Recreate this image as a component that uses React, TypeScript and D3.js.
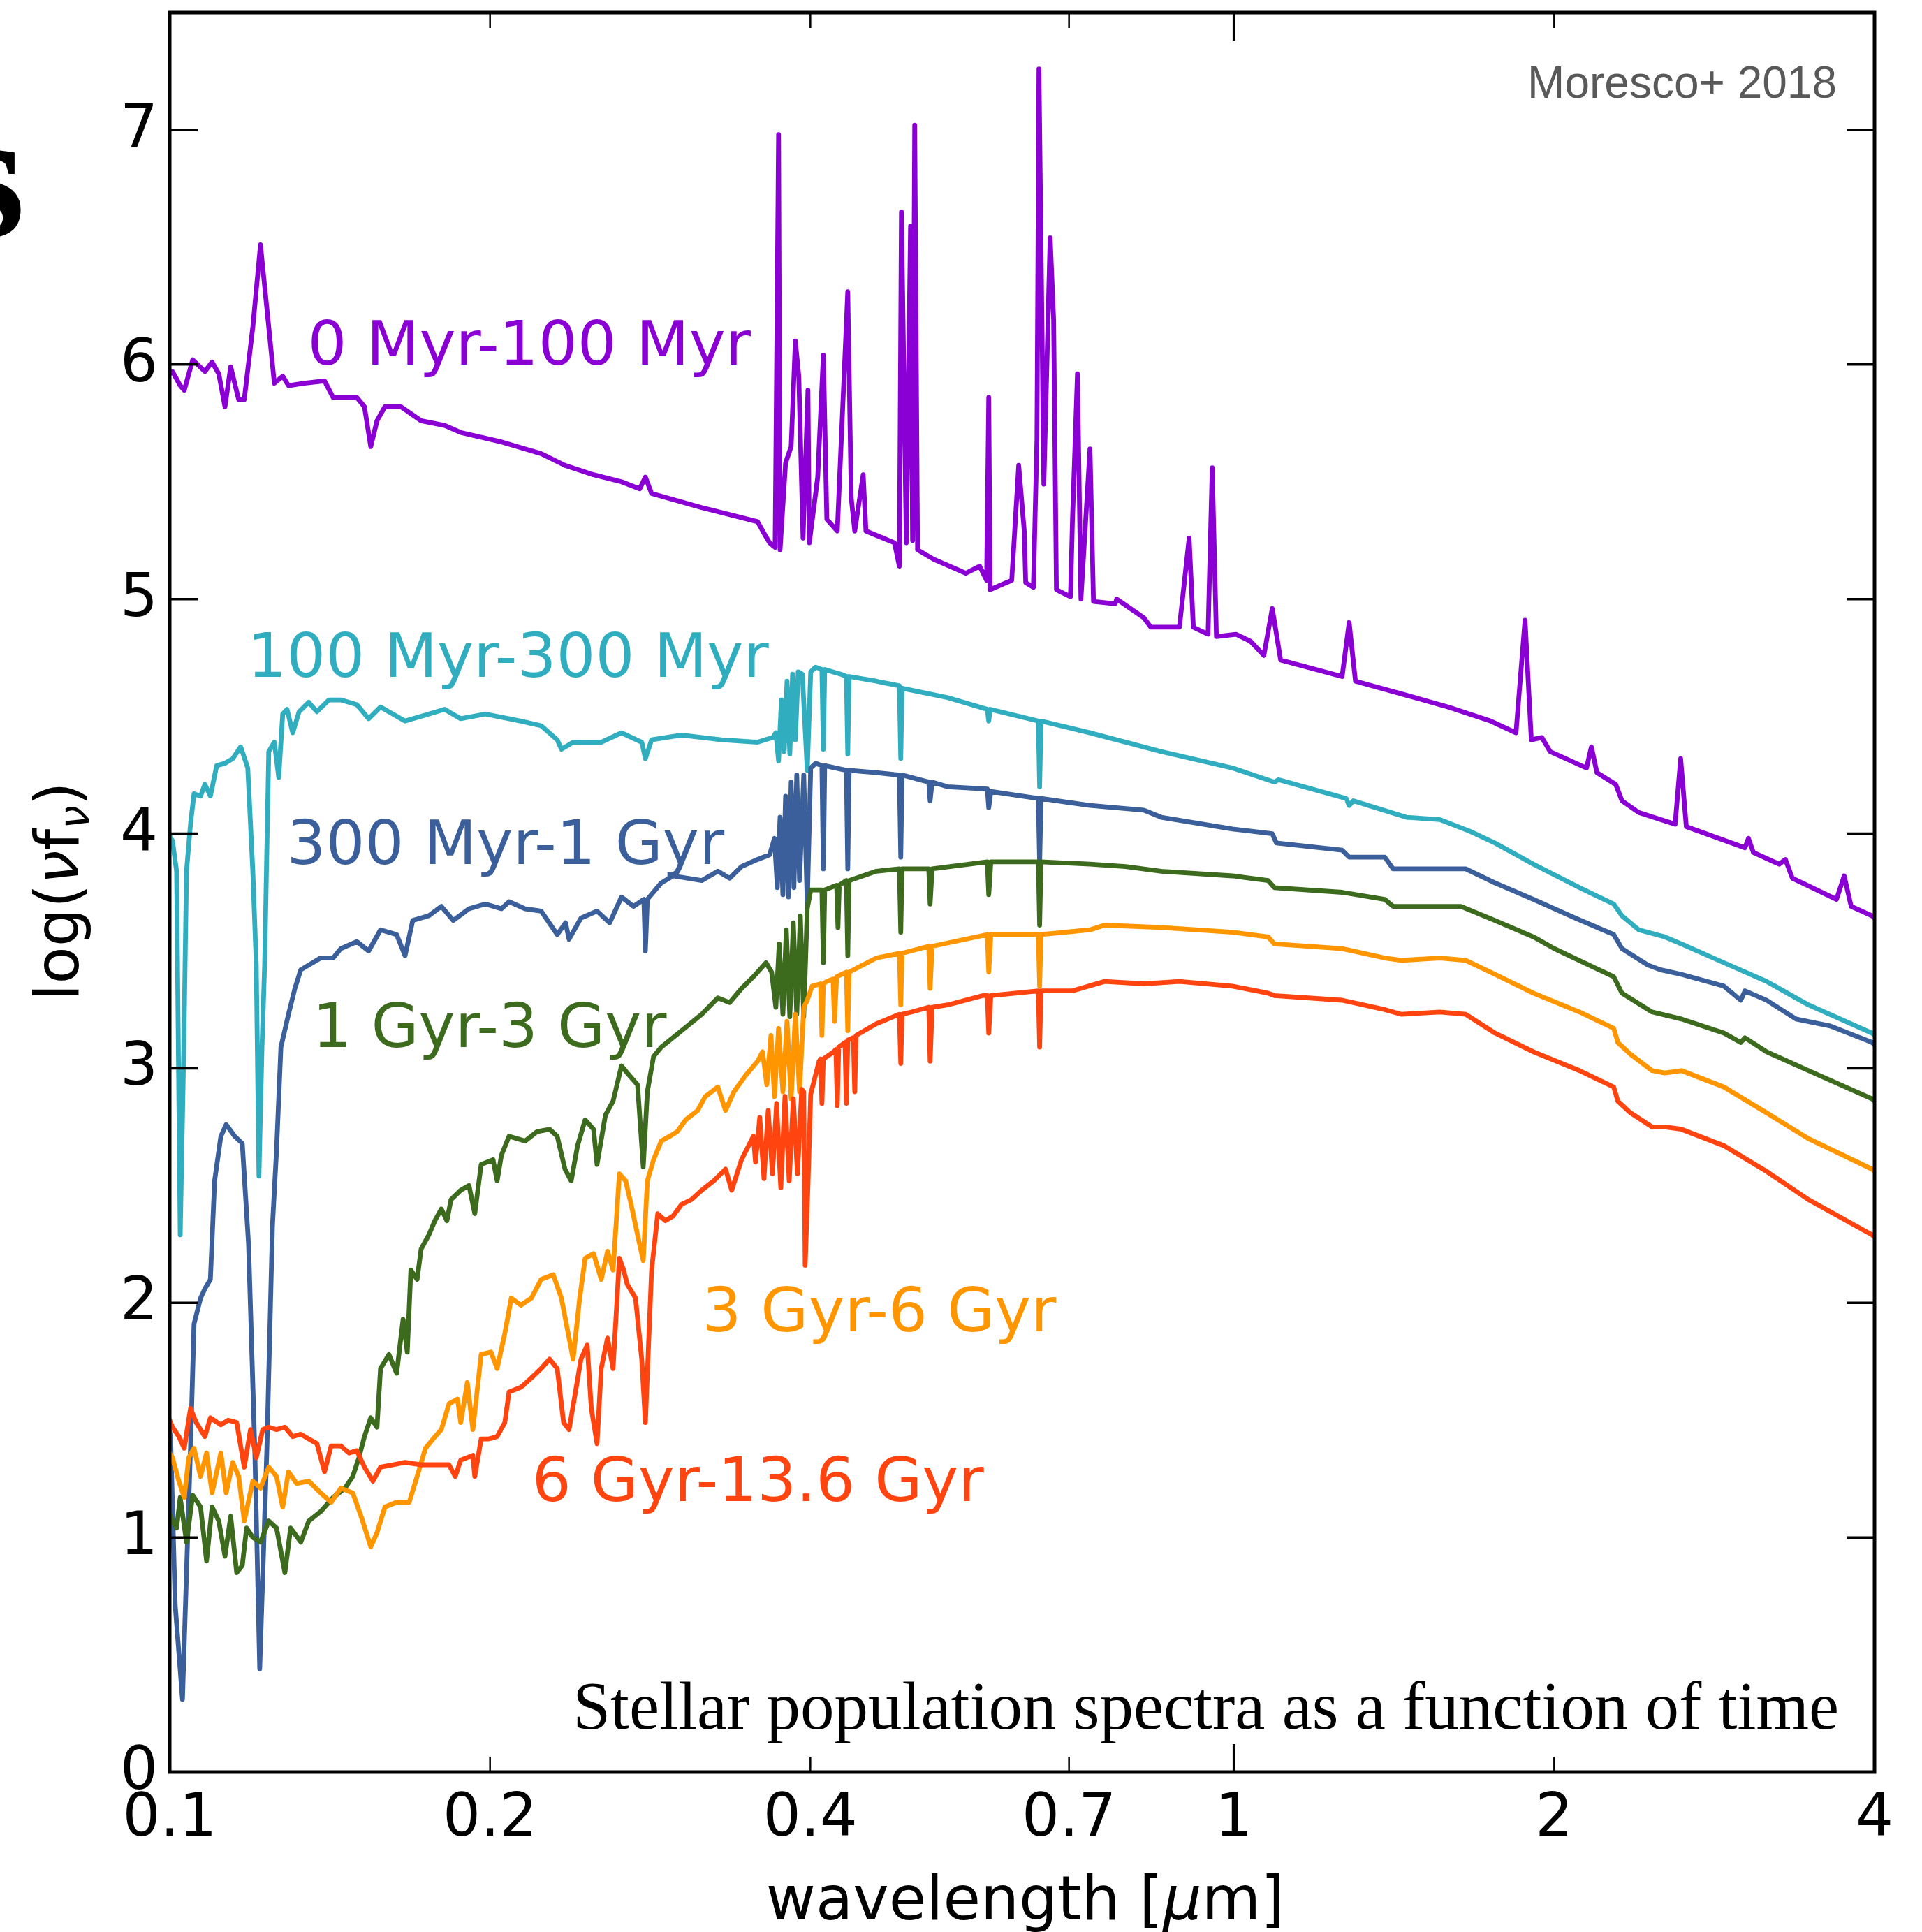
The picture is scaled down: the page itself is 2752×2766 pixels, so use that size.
import React from "react";
import * as d3 from "d3";

type Pt = [number, number];

// tick values
const xTicks = [0.1, 0.2, 0.4, 0.7, 1, 2, 4];
const xMajorTicks = [0.1, 1];
const yTicks = [0, 1, 2, 3, 4, 5, 6, 7];

// spectra: [wavelength in micron, log(nu f_nu)]
const age0to100Myr: Pt[] = [
  [0.1, 5.96], [0.1006, 5.97], [0.1023, 5.91], [0.1032, 5.89], [0.1051, 6.02], [0.1079, 5.97],
  [0.1096, 6.01], [0.1112, 5.96], [0.1127, 5.82], [0.1141, 5.99], [0.1161, 5.85], [0.1175, 5.85],
  [0.1197, 6.16], [0.1217, 6.51], [0.1239, 6.16], [0.1254, 5.92], [0.1277, 5.95], [0.1293, 5.91],
  [0.1338, 5.92], [0.1398, 5.93], [0.1424, 5.86], [0.1499, 5.86], [0.1524, 5.82], [0.1545, 5.65],
  [0.1566, 5.76], [0.1593, 5.82], [0.1649, 5.82], [0.1723, 5.76], [0.1813, 5.74], [0.1877, 5.71],
  [0.205, 5.67], [0.2234, 5.62], [0.2352, 5.57], [0.2502, 5.53], [0.2658, 5.5], [0.2765, 5.47],
  [0.2799, 5.52], [0.2837, 5.45], [0.3162, 5.39], [0.3568, 5.33], [0.3629, 5.27], [0.3662, 5.24],
  [0.3706, 5.22], [0.3734, 6.98], [0.3746, 5.21], [0.3791, 5.58], [0.3837, 5.65], [0.3872, 6.1],
  [0.3901, 5.95], [0.3937, 5.26], [0.3979, 5.89], [0.3991, 5.24], [0.4064, 5.52], [0.4114, 6.04],
  [0.4145, 5.34], [0.424, 5.29], [0.4337, 6.31], [0.437, 5.43], [0.4403, 5.29], [0.4484, 5.53],
  [0.4511, 5.29], [0.4798, 5.24], [0.4849, 5.14], [0.4871, 6.65], [0.4923, 5.24], [0.4968, 6.59],
  [0.499, 5.25], [0.5013, 7.02], [0.5044, 5.21], [0.5222, 5.17], [0.5598, 5.11], [0.577, 5.14],
  [0.5857, 5.08], [0.5884, 5.86], [0.5902, 5.04], [0.6184, 5.08], [0.6278, 5.57], [0.6354, 5.29],
  [0.6374, 5.07], [0.6481, 5.05], [0.6531, 5.68], [0.6559, 7.26], [0.6629, 5.49], [0.672, 6.54],
  [0.6771, 6.19], [0.6812, 5.04], [0.7022, 5.01], [0.7053, 5.34], [0.7129, 5.96], [0.7183, 5.0],
  [0.7325, 5.64], [0.7381, 4.99], [0.7736, 4.98], [0.776, 5.0], [0.8231, 4.92], [0.8356, 4.88],
  [0.8889, 4.88], [0.9078, 5.26], [0.9161, 4.88], [0.9457, 4.85], [0.9543, 5.56], [0.963, 4.84],
  [1.0046, 4.85], [1.0368, 4.82], [1.0671, 4.76], [1.0867, 4.96], [1.1066, 4.74], [1.264, 4.67],
  [1.2834, 4.9], [1.301, 4.65], [1.4527, 4.59], [1.5904, 4.54], [1.7436, 4.48], [1.8414, 4.43],
  [1.8778, 4.91], [1.9035, 4.4], [1.9473, 4.41], [1.9826, 4.35], [2.145, 4.28], [2.1677, 4.37],
  [2.1939, 4.26], [2.285, 4.21], [2.3162, 4.14], [2.4019, 4.09], [2.5983, 4.04], [2.6296, 4.32],
  [2.6619, 4.03], [3.0222, 3.94], [3.0451, 3.98], [3.0776, 3.92], [3.2544, 3.87], [3.2988, 3.89],
  [3.3487, 3.81], [3.6842, 3.72], [3.7459, 3.82], [3.803, 3.69], [3.9787, 3.65], [4.0, 3.64],
];

const age100to300Myr: Pt[] = [
  [0.1, 3.99], [0.1006, 3.97], [0.1015, 3.84], [0.1023, 2.29], [0.1031, 3.09], [0.1037, 3.84],
  [0.1046, 4.04], [0.1054, 4.17], [0.1069, 4.16], [0.1079, 4.21], [0.1092, 4.16], [0.1107, 4.29],
  [0.1127, 4.3], [0.1146, 4.32], [0.1166, 4.37], [0.1184, 4.28], [0.1197, 3.84], [0.1206, 3.44],
  [0.1213, 2.54], [0.1221, 3.09], [0.1228, 3.44], [0.1239, 4.35], [0.1254, 4.39], [0.1266, 4.24],
  [0.1277, 4.51], [0.1289, 4.53], [0.1305, 4.43], [0.1323, 4.52], [0.1351, 4.56], [0.1375, 4.52],
  [0.1411, 4.57], [0.1448, 4.57], [0.1499, 4.55], [0.1538, 4.49], [0.1578, 4.54], [0.1664, 4.48],
  [0.1723, 4.5], [0.1813, 4.53], [0.1877, 4.49], [0.198, 4.51], [0.2138, 4.48], [0.2234, 4.46],
  [0.2313, 4.4], [0.2334, 4.36], [0.2394, 4.39], [0.2544, 4.39], [0.2658, 4.43], [0.2777, 4.39],
  [0.2799, 4.32], [0.2837, 4.4], [0.3027, 4.42], [0.33, 4.4], [0.3568, 4.39], [0.3689, 4.41],
  [0.3712, 4.43], [0.3734, 4.31], [0.3757, 4.57], [0.378, 4.35], [0.3803, 4.65], [0.3826, 4.34],
  [0.3849, 4.68], [0.3872, 4.4], [0.3896, 4.69], [0.3931, 4.68], [0.3973, 4.27], [0.4003, 4.69],
  [0.4046, 4.71], [0.4101, 4.7], [0.4114, 4.36], [0.4126, 4.7], [0.4272, 4.68], [0.4324, 4.67],
  [0.4337, 4.34], [0.435, 4.67], [0.4614, 4.65], [0.4849, 4.63], [0.4864, 4.32], [0.4878, 4.62],
  [0.5383, 4.58], [0.5866, 4.53], [0.5884, 4.48], [0.5902, 4.53], [0.655, 4.48], [0.6569, 4.2],
  [0.6589, 4.48], [0.7325, 4.43], [0.8546, 4.35], [0.997, 4.28], [1.0917, 4.22], [1.1016, 4.23],
  [1.2755, 4.15], [1.2834, 4.12], [1.2951, 4.14], [1.4527, 4.07], [1.5618, 4.06], [1.6667, 4.01],
  [1.76, 3.96], [1.9124, 3.87], [2.1125, 3.77], [2.2751, 3.7], [2.3162, 3.65], [2.4019, 3.59],
  [2.541, 3.56], [2.6339, 3.53], [2.8878, 3.45], [3.1674, 3.37], [3.4674, 3.27], [3.9787, 3.15],
  [4.0, 3.14],
];

const age300Myrto1Gyr: Pt[] = [
  [0.1, 1.45], [0.1002, 1.42], [0.1012, 0.71], [0.1028, 0.31], [0.1037, 0.85], [0.1046, 1.38],
  [0.1054, 1.91], [0.1069, 2.02], [0.1079, 2.06], [0.1092, 2.1], [0.1102, 2.52], [0.1117, 2.71],
  [0.113, 2.76], [0.1151, 2.71], [0.117, 2.68], [0.1186, 2.25], [0.1202, 1.38], [0.1215, 0.44],
  [0.1234, 1.38], [0.1249, 2.33], [0.126, 2.65], [0.1272, 3.09], [0.1293, 3.23], [0.1311, 3.34],
  [0.1328, 3.42], [0.1351, 3.44], [0.1386, 3.47], [0.1424, 3.47], [0.1448, 3.51], [0.1499, 3.54],
  [0.1538, 3.5], [0.1578, 3.59], [0.1634, 3.57], [0.1664, 3.48], [0.1692, 3.63], [0.1752, 3.65],
  [0.18, 3.69], [0.1847, 3.63], [0.1911, 3.68], [0.198, 3.7], [0.205, 3.68], [0.2084, 3.71],
  [0.2158, 3.68], [0.2234, 3.67], [0.2313, 3.57], [0.2355, 3.62], [0.2373, 3.55], [0.2435, 3.64],
  [0.2521, 3.67], [0.2591, 3.62], [0.2658, 3.73], [0.2728, 3.69], [0.279, 3.72], [0.2799, 3.5],
  [0.2811, 3.72], [0.2897, 3.79], [0.2972, 3.82], [0.3162, 3.8], [0.3274, 3.84], [0.3359, 3.81],
  [0.3446, 3.86], [0.3568, 3.89], [0.3662, 3.91], [0.3701, 3.98], [0.3724, 3.77], [0.3746, 4.07],
  [0.3769, 3.74], [0.3791, 4.16], [0.3815, 3.73], [0.3837, 4.22], [0.386, 3.77], [0.3884, 4.25],
  [0.3907, 3.8], [0.3943, 4.25], [0.3973, 3.7], [0.4003, 4.28], [0.4046, 4.3], [0.4101, 4.29],
  [0.4114, 3.85], [0.4126, 4.29], [0.4324, 4.27], [0.4337, 3.85], [0.435, 4.27], [0.4614, 4.26],
  [0.4849, 4.25], [0.4864, 3.9], [0.4878, 4.25], [0.5168, 4.22], [0.5183, 4.14], [0.5206, 4.22],
  [0.5383, 4.2], [0.5866, 4.19], [0.5884, 4.11], [0.5911, 4.18], [0.655, 4.15], [0.6569, 3.87],
  [0.6589, 4.15], [0.7325, 4.12], [0.8231, 4.1], [0.8546, 4.07], [0.997, 4.02], [1.0867, 4.0],
  [1.0965, 3.96], [1.264, 3.93], [1.2834, 3.9], [1.3862, 3.9], [1.4116, 3.85], [1.5196, 3.85],
  [1.6514, 3.85], [1.76, 3.79], [1.9124, 3.72], [2.0937, 3.64], [2.2751, 3.57], [2.3162, 3.51],
  [2.4494, 3.44], [2.5168, 3.42], [2.6339, 3.4], [2.8878, 3.35], [2.9949, 3.29], [3.0222, 3.33],
  [3.1674, 3.29], [3.3751, 3.21], [3.6345, 3.18], [3.9787, 3.11], [4.0, 3.1],
];

const age1to3Gyr: Pt[] = [
  [0.1, 1.1], [0.1006, 1.07], [0.1015, 1.04], [0.1023, 1.17], [0.1037, 0.98], [0.1051, 1.18],
  [0.1069, 1.13], [0.1083, 0.9], [0.1096, 1.13], [0.1112, 1.07], [0.1127, 0.92], [0.1141, 1.09],
  [0.1156, 0.85], [0.117, 0.88], [0.1181, 1.04], [0.1197, 1.0], [0.1217, 0.98], [0.1239, 1.07],
  [0.126, 1.04], [0.1283, 0.85], [0.1299, 1.04], [0.1328, 0.98], [0.1351, 1.07], [0.1386, 1.11],
  [0.1424, 1.17], [0.1461, 1.21], [0.1486, 1.26], [0.1506, 1.34], [0.1524, 1.43], [0.1545, 1.51],
  [0.1566, 1.47], [0.1578, 1.72], [0.1607, 1.78], [0.1634, 1.7], [0.1657, 1.93], [0.1672, 1.79],
  [0.1685, 2.14], [0.1708, 2.1], [0.1723, 2.23], [0.1752, 2.29], [0.1775, 2.35], [0.18, 2.4],
  [0.1822, 2.35], [0.1838, 2.44], [0.1877, 2.48], [0.1911, 2.5], [0.1935, 2.38], [0.1962, 2.59],
  [0.2013, 2.61], [0.2031, 2.52], [0.205, 2.63], [0.2084, 2.71], [0.2158, 2.69], [0.2214, 2.73],
  [0.2275, 2.74], [0.2313, 2.71], [0.2352, 2.57], [0.2384, 2.52], [0.2417, 2.67], [0.2457, 2.78],
  [0.2502, 2.74], [0.2521, 2.59], [0.2567, 2.8], [0.261, 2.86], [0.2658, 3.01], [0.2703, 2.97],
  [0.2752, 2.93], [0.2786, 2.58], [0.2811, 2.9], [0.2849, 3.05], [0.2897, 3.09], [0.3027, 3.16],
  [0.3162, 3.23], [0.3274, 3.3], [0.3359, 3.28], [0.3446, 3.34], [0.3536, 3.39], [0.3634, 3.45],
  [0.3678, 3.41], [0.3712, 3.26], [0.3739, 3.53], [0.3769, 3.23], [0.3797, 3.59], [0.3826, 3.22],
  [0.3855, 3.62], [0.3884, 3.23], [0.3914, 3.65], [0.3943, 3.22], [0.3973, 3.68], [0.4003, 3.76],
  [0.4101, 3.76], [0.4114, 3.45], [0.4126, 3.76], [0.4234, 3.78], [0.4246, 3.6], [0.4258, 3.78],
  [0.4324, 3.8], [0.4337, 3.48], [0.435, 3.8], [0.4614, 3.84], [0.4849, 3.85], [0.4864, 3.58],
  [0.4878, 3.85], [0.5168, 3.85], [0.5183, 3.7], [0.5206, 3.85], [0.5866, 3.88], [0.5884, 3.74],
  [0.5911, 3.88], [0.655, 3.88], [0.6569, 3.61], [0.6589, 3.88], [0.7325, 3.87], [0.7913, 3.86],
  [0.8546, 3.84], [0.997, 3.82], [1.077, 3.8], [1.0917, 3.77], [1.264, 3.75], [1.3862, 3.72],
  [1.4116, 3.69], [1.6343, 3.69], [1.76, 3.63], [1.9124, 3.56], [2.0008, 3.51], [2.2751, 3.39],
  [2.3162, 3.32], [2.4717, 3.24], [2.6339, 3.21], [2.8878, 3.15], [2.9949, 3.11], [3.0222, 3.13],
  [3.1674, 3.07], [3.4674, 2.99], [3.9787, 2.87], [4.0, 2.86],
];

const age3to6Gyr: Pt[] = [
  [0.1, 1.36], [0.1006, 1.34], [0.102, 1.24], [0.1032, 1.17], [0.1042, 1.34], [0.1054, 1.38],
  [0.1069, 1.26], [0.1083, 1.36], [0.1096, 1.19], [0.1117, 1.36], [0.113, 1.19], [0.1146, 1.32],
  [0.1161, 1.26], [0.1175, 1.07], [0.1197, 1.24], [0.1217, 1.21], [0.1239, 1.3], [0.126, 1.26],
  [0.1277, 1.13], [0.1293, 1.28], [0.1316, 1.23], [0.1351, 1.24], [0.1386, 1.19], [0.1418, 1.15],
  [0.1448, 1.21], [0.1486, 1.19], [0.1513, 1.09], [0.1545, 0.96], [0.1566, 1.02], [0.1593, 1.13],
  [0.1634, 1.15], [0.1679, 1.15], [0.1708, 1.26], [0.1739, 1.38], [0.1768, 1.42], [0.18, 1.46],
  [0.183, 1.57], [0.1864, 1.59], [0.1877, 1.49], [0.1904, 1.66], [0.1927, 1.46], [0.1962, 1.78],
  [0.2004, 1.79], [0.2031, 1.72], [0.2065, 1.87], [0.2094, 2.02], [0.2138, 1.99], [0.2187, 2.02],
  [0.2234, 2.1], [0.2293, 2.12], [0.2334, 2.02], [0.2373, 1.85], [0.2394, 1.76], [0.2428, 2.02],
  [0.2457, 2.19], [0.2502, 2.21], [0.2544, 2.1], [0.2579, 2.22], [0.261, 2.14], [0.2646, 2.55],
  [0.2682, 2.52], [0.2714, 2.42], [0.2752, 2.29], [0.2786, 2.18], [0.2811, 2.52], [0.2849, 2.61],
  [0.2897, 2.69], [0.295, 2.71], [0.2999, 2.73], [0.3054, 2.78], [0.3134, 2.82], [0.3187, 2.88],
  [0.3274, 2.92], [0.3329, 2.82], [0.339, 2.9], [0.3478, 2.97], [0.3568, 3.03], [0.3607, 3.07],
  [0.364, 2.93], [0.3673, 3.14], [0.3701, 2.88], [0.3734, 3.17], [0.3769, 2.9], [0.3803, 3.2],
  [0.3837, 2.87], [0.3872, 3.23], [0.3907, 2.9], [0.3943, 3.26], [0.3973, 3.29], [0.4015, 3.35],
  [0.409, 3.36], [0.4101, 3.14], [0.4114, 3.36], [0.4145, 3.37], [0.4201, 3.38], [0.4214, 3.2],
  [0.4234, 3.39], [0.4324, 3.41], [0.4337, 3.16], [0.435, 3.41], [0.4614, 3.47], [0.4849, 3.49],
  [0.4864, 3.27], [0.4878, 3.49], [0.5168, 3.52], [0.5183, 3.34], [0.5206, 3.52], [0.5866, 3.57],
  [0.5884, 3.41], [0.5911, 3.57], [0.655, 3.57], [0.6569, 3.35], [0.6589, 3.57], [0.7325, 3.59],
  [0.7561, 3.61], [0.8546, 3.6], [0.997, 3.58], [1.077, 3.56], [1.0917, 3.53], [1.264, 3.51],
  [1.3862, 3.47], [1.4375, 3.46], [1.5618, 3.47], [1.6514, 3.46], [1.76, 3.4], [1.9124, 3.32],
  [2.1125, 3.24], [2.2751, 3.17], [2.2955, 3.11], [2.359, 3.06], [2.4717, 2.99], [2.541, 2.98],
  [2.6339, 2.99], [2.8878, 2.92], [3.1674, 2.81], [3.4674, 2.7], [3.9787, 2.57], [4.0, 2.56],
];

const age6to13Gyr: Pt[] = [
  [0.1, 1.5], [0.1006, 1.47], [0.102, 1.43], [0.1032, 1.38], [0.1046, 1.55], [0.1059, 1.49],
  [0.1079, 1.43], [0.1092, 1.51], [0.1117, 1.48], [0.1135, 1.5], [0.1156, 1.49], [0.1175, 1.3],
  [0.1191, 1.46], [0.1206, 1.34], [0.1223, 1.46], [0.1239, 1.47], [0.126, 1.46], [0.1283, 1.47],
  [0.1305, 1.43], [0.1328, 1.44], [0.1351, 1.42], [0.1375, 1.4], [0.1398, 1.28], [0.1418, 1.39],
  [0.1448, 1.39], [0.1474, 1.36], [0.1499, 1.37], [0.1524, 1.3], [0.1552, 1.24], [0.1578, 1.3],
  [0.1622, 1.31], [0.1664, 1.32], [0.1723, 1.31], [0.1783, 1.31], [0.183, 1.31], [0.1855, 1.26],
  [0.1877, 1.33], [0.1927, 1.35], [0.1935, 1.26], [0.1962, 1.42], [0.1995, 1.42], [0.2031, 1.43],
  [0.2065, 1.49], [0.2084, 1.62], [0.2138, 1.64], [0.2187, 1.68], [0.2234, 1.72], [0.2275, 1.76],
  [0.2313, 1.72], [0.2345, 1.49], [0.2373, 1.46], [0.2406, 1.62], [0.2435, 1.76], [0.2468, 1.82],
  [0.249, 1.55], [0.2521, 1.4], [0.2544, 1.72], [0.2579, 1.85], [0.261, 1.72], [0.2646, 2.19],
  [0.267, 2.14], [0.2691, 2.08], [0.274, 2.02], [0.2777, 1.76], [0.2799, 1.49], [0.2837, 2.14],
  [0.2875, 2.38], [0.2923, 2.35], [0.2972, 2.37], [0.3027, 2.42], [0.3092, 2.44], [0.3162, 2.48],
  [0.3245, 2.52], [0.3329, 2.57], [0.3374, 2.48], [0.3446, 2.61], [0.3536, 2.71], [0.3552, 2.6],
  [0.3585, 2.79], [0.3618, 2.53], [0.3651, 2.82], [0.3685, 2.55], [0.3718, 2.85], [0.3752, 2.49],
  [0.3786, 2.88], [0.3821, 2.52], [0.3855, 2.87], [0.389, 2.55], [0.3926, 2.91], [0.3943, 2.9],
  [0.3955, 2.16], [0.3979, 2.5], [0.4003, 2.89], [0.4076, 3.03], [0.409, 3.04], [0.4101, 2.85],
  [0.4114, 3.04], [0.4207, 3.07], [0.4227, 3.08], [0.424, 2.84], [0.4253, 3.09], [0.4311, 3.11],
  [0.4324, 2.85], [0.4337, 3.12], [0.439, 3.13], [0.4403, 2.9], [0.4416, 3.14], [0.4614, 3.19],
  [0.4849, 3.23], [0.4864, 3.02], [0.4878, 3.23], [0.4983, 3.24], [0.5168, 3.26], [0.5183, 3.03],
  [0.5206, 3.26], [0.5383, 3.27], [0.5812, 3.31], [0.5866, 3.31], [0.5884, 3.15], [0.5911, 3.31],
  [0.655, 3.33], [0.6569, 3.09], [0.6589, 3.33], [0.7053, 3.33], [0.7561, 3.37], [0.8231, 3.36],
  [0.8889, 3.37], [0.997, 3.35], [1.077, 3.32], [1.0917, 3.31], [1.264, 3.29], [1.3862, 3.25],
  [1.4375, 3.23], [1.5618, 3.24], [1.6514, 3.23], [1.76, 3.15], [1.9124, 3.07], [2.1125, 2.99],
  [2.2751, 2.92], [2.2955, 2.86], [2.359, 2.81], [2.4717, 2.75], [2.541, 2.75], [2.6339, 2.74],
  [2.8878, 2.67], [3.1674, 2.56], [3.4674, 2.44], [3.9787, 2.29], [4.0, 2.28],
];

const seriesData = [age0to100Myr, age100to300Myr, age300Myrto1Gyr, age1to3Gyr, age3to6Gyr, age6to13Gyr];
const seriesNames = ["0 Myr-100 Myr", "100 Myr-300 Myr", "300 Myr-1 Gyr", "1 Gyr-3 Gyr", "3 Gyr-6 Gyr", "6 Gyr-13.6 Gyr"];
const seriesColors = ["#8a00d4", "#30aebf", "#3a5f9b", "#3d6b1e", "#ff9600", "#ff4410"];
// where each label starts (wavelength, value)
const labelSpots: Pt[] = [[0.1348, 6.0], [0.1183, 4.67], [0.1288, 3.87], [0.1362, 3.09], [0.3165, 1.88], [0.219, 1.155]];

const W = 2752;
const H = 2766;
const plotLeft = 243;
const plotRight = 2684;
const plotTop = 18;
const plotBottom = 2537;

export default function App() {
  const x = d3.scaleLog().domain([0.1, 4]).range([plotLeft, plotRight]);
  const y = d3.scaleLinear().domain([0, 7.5]).range([plotBottom, plotTop]);
  const line = d3
    .line<Pt>()
    .x((d) => x(d[0]))
    .y((d) => y(d[1]));

  const sans = "DejaVu Sans";

  return (
    <div style={{ position: "absolute", left: 0, top: 0 }}>
      <svg width={W} height={H} style={{ display: "block", background: "#fff" }}>
        <defs>
          <clipPath id="plotClip">
            <rect x={plotLeft} y={plotTop} width={plotRight - plotLeft} height={plotBottom - plotTop} />
          </clipPath>
        </defs>

        {/* cut-off slide title letter */}
        <text x={-66} y={338} fontFamily="Liberation Serif" fontWeight="bold" fontSize={262} fill="#000">
          s
        </text>

        <g clipPath="url(#plotClip)">
          {seriesData.map((d, i) => (
            <path
              key={seriesNames[i]}
              d={line(d) || ""}
              fill="none"
              stroke={seriesColors[i]}
              strokeWidth={6.8}
              strokeLinejoin="round"
              strokeLinecap="round"
            />
          ))}
        </g>

        {/* ticks */}
        {yTicks.map((t) => (
          <g key={"y" + t}>
            <line x1={plotLeft} x2={plotLeft + 40} y1={y(t)} y2={y(t)} stroke="#000" strokeWidth={3.5} />
            <line x1={plotRight} x2={plotRight - 40} y1={y(t)} y2={y(t)} stroke="#000" strokeWidth={3.5} />
            <text x={226} y={y(t) + 24} textAnchor="end" fontFamily={sans} fontSize={85} fill="#000">
              {t}
            </text>
          </g>
        ))}
        {xTicks.map((t) => {
          const len = xMajorTicks.includes(t) ? 40 : 22;
          const sw = xMajorTicks.includes(t) ? 3.5 : 2.5;
          return (
            <g key={"x" + t}>
              <line x1={x(t)} x2={x(t)} y1={plotBottom} y2={plotBottom - len} stroke="#000" strokeWidth={sw} />
              <line x1={x(t)} x2={x(t)} y1={plotTop} y2={plotTop + len} stroke="#000" strokeWidth={sw} />
              <text x={x(t)} y={plotBottom + 91} textAnchor="middle" fontFamily={sans} fontSize={85} fill="#000">
                {t}
              </text>
            </g>
          );
        })}

        <rect
          x={plotLeft}
          y={plotTop}
          width={plotRight - plotLeft}
          height={plotBottom - plotTop}
          fill="none"
          stroke="#000"
          strokeWidth={5}
        />

        {/* series labels */}
        {seriesNames.map((name, i) => (
          <text
            key={"lab" + i}
            x={x(labelSpots[i][0])}
            y={y(labelSpots[i][1])}
            fontFamily={sans}
            fontSize={88}
            fill={seriesColors[i]}
          >
            {name}
          </text>
        ))}

        <text x={2630} y={140} textAnchor="end" fontFamily="Liberation Sans" fontSize={64} fill="#595959">
          Moresco+ 2018
        </text>

        <text x={2633} y={2475} textAnchor="end" fontFamily="Liberation Serif" fontSize={97} fill="#000">
          Stellar population spectra as a function of time
        </text>

        {/* axis titles */}
        <text
          transform={`translate(112, ${1276}) rotate(-90)`}
          textAnchor="middle"
          fontFamily={sans}
          fontSize={87}
          fill="#000"
        >
          log(<tspan fontStyle="italic">ν</tspan>f
          <tspan fontStyle="italic" fontSize={60} dy={15}>ν</tspan>
          <tspan dy={-15}>)</tspan>
        </text>
        <text x={1468} y={2748} textAnchor="middle" fontFamily={sans} fontSize={87} fill="#000">
          wavelength [<tspan fontStyle="italic">μ</tspan>m]
        </text>
      </svg>
    </div>
  );
}
